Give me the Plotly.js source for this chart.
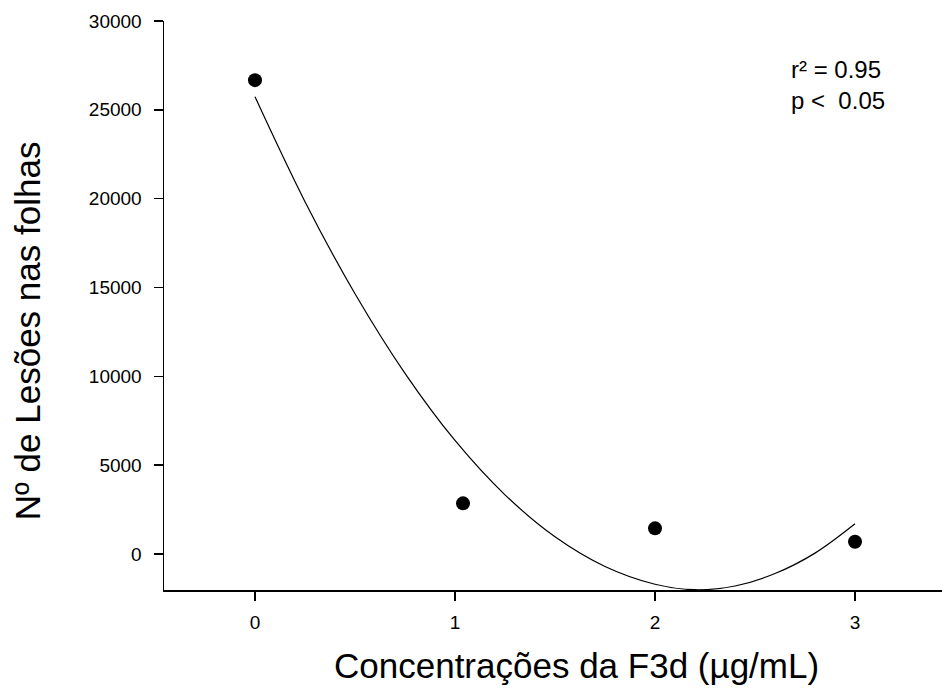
<!DOCTYPE html>
<html>
<head>
<meta charset="utf-8">
<script src="https://cdn.plot.ly/plotly-3.0.1.min.js"></script>
<style>html,body{margin:0;padding:0;background:#fff;}#chart{width:942px;height:688px;}</style>
</head>
<body>
<div id="chart"></div>
<script>
// Observed data points
const concX = [0, 1.04, 2, 3];
const lesions = [26670, 2850, 1444, 690];

// Fitted curve
const curveX = [0, 0.25, 0.5, 0.75, 1.0, 1.25, 1.5, 1.75, 2.0, 2.2, 2.4, 2.6, 2.8, 3.0];
const curveY = [25730, 19830, 14650, 10170, 6390, 3330, 970, -700, -1700, -2010, -1800, -1100, 50, 1700];

const xTicks = [0, 1, 2, 3];
const yTicks = [0, 5000, 10000, 15000, 20000, 25000, 30000];

const statLines = ["r² = 0.95", "p <\u00a0 0.05"];
const xTitle = "Concentrações da F3d (µg/mL)";
const yTitle = "Nº de Lesões nas folhas";

const FONT = "Liberation Sans, Arial, sans-serif";

const traces = [
  {
    x: curveX, y: curveY, mode: "lines", type: "scatter",
    line: {color: "#000", width: 1.2, shape: "spline"},
    hoverinfo: "skip", showlegend: false
  },
  {
    x: concX, y: lesions, mode: "markers", type: "scatter",
    marker: {color: "#000", size: 14, symbol: "circle"},
    showlegend: false
  }
];

const layout = {
  width: 942, height: 688,
  paper_bgcolor: "#fff", plot_bgcolor: "#fff",
  margin: {l: 164, r: 0, t: 21, b: 98},
  showlegend: false,
  font: {family: FONT, color: "#000"},
  xaxis: {
    range: [-0.455, 3.435],
    tickvals: xTicks, ticktext: xTicks.map(String),
    showgrid: false, zeroline: false,
    showline: true, linecolor: "#000", linewidth: 1.5,
    ticks: "outside", ticklen: 9, tickwidth: 1.5, tickcolor: "#000",
    ticklabelstandoff: 6,
    tickfont: {family: FONT, size: 19, color: "#000"}
  },
  yaxis: {
    range: [-2026, 30000],
    tickvals: yTicks, ticktext: yTicks.map(String),
    showgrid: false, zeroline: false,
    showline: true, linecolor: "#000", linewidth: 1.5,
    ticks: "outside", ticklen: 9, tickwidth: 1.5, tickcolor: "#000",
    ticklabelstandoff: 8,
    tickfont: {family: FONT, size: 19, color: "#000"}
  },
  annotations: [
    {text: statLines[0], xref: "paper", yref: "paper", x: 0.803, y: 0.914,
     xanchor: "left", yanchor: "middle", showarrow: false,
     font: {family: FONT, size: 24, color: "#000"}},
    {text: statLines[1], xref: "paper", yref: "paper", x: 0.803, y: 0.861,
     xanchor: "left", yanchor: "middle", showarrow: false,
     font: {family: FONT, size: 24, color: "#000"}},
    {text: xTitle, xref: "paper", yref: "paper", x: 0.5296, y: -0.132,
     xanchor: "center", yanchor: "middle", showarrow: false,
     font: {family: FONT, size: 35, color: "#000"}},
    {text: yTitle, xref: "paper", yref: "paper", x: -0.176, y: 0.455,
     xanchor: "center", yanchor: "middle", showarrow: false, textangle: -90,
     font: {family: FONT, size: 35, color: "#000"}}
  ]
};

Plotly.newPlot("chart", traces, layout, {displayModeBar: false, staticPlot: true});
</script>
</body>
</html>
